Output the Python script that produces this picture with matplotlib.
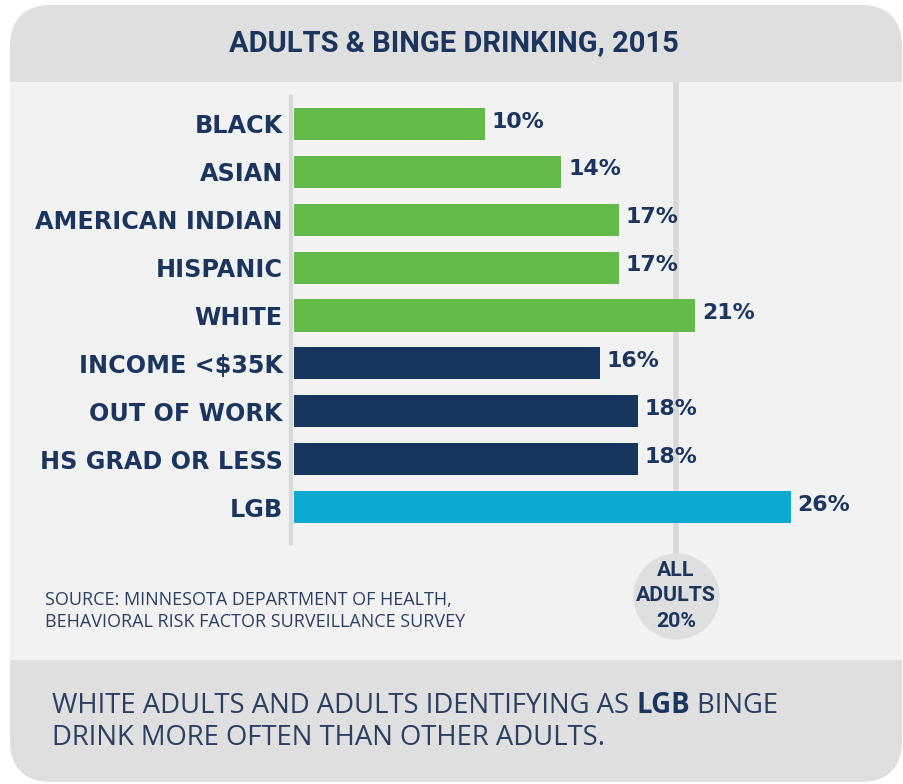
import matplotlib
matplotlib.use("Agg")
import matplotlib.pyplot as plt
from matplotlib.patches import FancyBboxPatch, Rectangle

# data
categories = ["BLACK", "ASIAN", "AMERICAN INDIAN", "HISPANIC", "WHITE",
              "INCOME <$35K", "OUT OF WORK", "HS GRAD OR LESS", "LGB"]
values = [10, 14, 17, 17, 21, 16, 18, 18, 26]
groups = ["race", "race", "race", "race", "race", "ses", "ses", "ses", "lgb"]
all_adults = 20

title = "ADULTS & BINGE DRINKING, 2015"
source = "SOURCE: MINNESOTA DEPARTMENT OF HEALTH,\nBEHAVIORAL RISK FACTOR SURVEILLANCE SURVEY"

NAVY = "#1b355e"
group_colors = {"race": "#64bb47", "ses": "#17365d", "lgb": "#0ba9cf"}
HEAD = "#dfdfdf"
BODY = "#f2f2f2"
LINE = "#d8d8d8"

W, H = 904, 784
fig = plt.figure(figsize=(W / 100, H / 100), dpi=100)
fig.patch.set_facecolor("white")

# background card
bg = fig.add_axes([0, 0, 1, 1])
bg.set_xlim(0, W)
bg.set_ylim(H, 0)
bg.axis("off")
card = FancyBboxPatch((10, 5), 892, 777, boxstyle="round,pad=0,rounding_size=42",
                      fc=HEAD, ec="none")
bg.add_patch(card)
bg.add_patch(Rectangle((10, 82), 892, 578, fc=BODY, ec="none"))
bg.plot([291, 291], [95, 545], color=LINE, lw=3, solid_capstyle="butt")

bg.text(454, 43, title, ha="center", va="center", fontsize=21, fontweight="bold",
        color=NAVY, family="Roboto")
bg.text(45, 611, source, ha="left", va="center", fontsize=13, color="#2c3f62",
        family="Open Sans", linespacing=1.3)

# bottom note with bold LGB
fs = 19.8
t1 = bg.text(52, 706, "WHITE ADULTS AND ADULTS IDENTIFYING AS ", ha="left", va="center",
             fontsize=fs, color="#2b3f63", family="Open Sans")
t2 = bg.annotate("LGB", xy=(1, 0), xycoords=t1, va="bottom", ha="left",
                 fontsize=fs, color=NAVY, fontweight="bold", family="Open Sans")
bg.annotate(" BINGE", xy=(1, 0), xycoords=t2, va="bottom", ha="left",
            fontsize=fs, color="#2b3f63", family="Open Sans")
bg.text(52, 738, "DRINK MORE OFTEN THAN OTHER ADULTS.", ha="left", va="center",
        fontsize=fs, color="#2b3f63", family="Open Sans")

# bar axes: zero at x=294px, 19.1 px per percent; rows at 124 + 48*i px
x0, ppp = 294, 19.1
ax = fig.add_axes([x0 / W, 1 - 545 / H, 572 / W, 450 / H])
ax.set_xlim(0, 572 / ppp)
ax.set_ylim(8 + (545 - 507) / 48, -(124 - 95) / 48)
ax.patch.set_visible(False)
for s in ax.spines.values():
    s.set_visible(False)

ypos = list(range(len(categories)))
ax.plot([all_adults, all_adults], [(82 - 124) / 48, (560 - 124) / 48], color=LINE,
        lw=4, clip_on=False, zorder=0, solid_capstyle="butt")
ax.barh(ypos, values, height=0.67, color=[group_colors[g] for g in groups], zorder=2)
for y, v in zip(ypos, values):
    ax.text(v + 0.35, y - 0.05, f"{v}%", va="center", ha="left", fontsize=15.8,
            fontweight="bold", color=NAVY, family="DejaVu Sans")

ax.set_xticks([])
ax.set_yticks(ypos)
ax.set_yticklabels(categories, fontsize=17.2, fontweight="bold", color=NAVY,
                   family="DejaVu Sans")
ax.tick_params(axis="y", length=0, pad=8)

# all adults bubble
cy = (597 - 124) / 48
ax.scatter([all_adults], [cy], s=62 ** 2, color=HEAD, clip_on=False, zorder=3,
           linewidths=0)
ax.text(all_adults, cy, f"ALL\nADULTS\n{all_adults}%", ha="center", va="center",
        fontsize=15.3, fontweight="bold", color=NAVY, linespacing=1.45, zorder=4,
        family="Roboto")

fig.savefig("out.png", dpi=100, facecolor="white")
